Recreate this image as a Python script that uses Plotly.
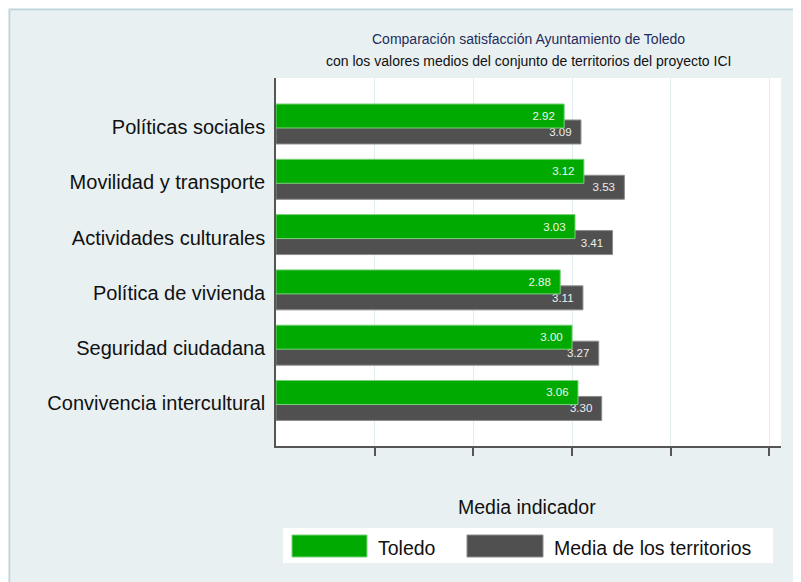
import plotly.graph_objects as go

# ---------------- data ----------------
categories = [
    "Políticas sociales",
    "Movilidad y transporte",
    "Actividades culturales",
    "Política de vivienda",
    "Seguridad ciudadana",
    "Convivencia intercultural",
]
toledo = [2.92, 3.12, 3.03, 2.88, 3.00, 3.06]
media_territorios = [3.09, 3.53, 3.41, 3.11, 3.27, 3.30]
series_names = ["Toledo", "Media de los territorios"]
title_lines = [
    "Comparación satisfacción Ayuntamiento de Toledo",
    "con los valores medios del conjunto de territorios del proyecto ICI",
]
axis_title = "Media indicador"
x_ticks = [1, 2, 3, 4, 5]

# ---------------- style ----------------
GREEN = "#00aa00"
GRAY = "#505050"
BG = "#e8f0f2"
FONT = "Arial, Liberation Sans, sans-serif"
OFF = 8  # page body margin
W, H = 801, 582
L, R, T, B = 268, 28, 70, 144
pw = W - L - R
ph = H - T - B


def px(x):  # screen pixel -> paper
    return (x - OFF - L) / pw


def py(y):
    return (H - B - (y - OFF)) / ph


fig = go.Figure()

# gray drawn first so green overlaps it
fig.add_trace(go.Bar(
    y=categories, x=media_territorios, orientation="h", name=series_names[1],
    marker=dict(color=GRAY, line=dict(color="#8c8c8c", width=1)),
    width=0.434, offset=-0.127,
    texttemplate="%{x:.2f}\u00a0\u00a0", textposition="inside", insidetextanchor="end",
    textfont=dict(color="#eeeeee", size=11.5, family=FONT),
    showlegend=False, hoverinfo="skip",
))
fig.add_trace(go.Bar(
    y=categories, x=toledo, orientation="h", name=series_names[0],
    marker=dict(color=GREEN, line=dict(color="#7ad27a", width=1)),
    width=0.434, offset=-0.416,
    texttemplate="%{x:.2f}\u00a0\u00a0", textposition="inside", insidetextanchor="end",
    textfont=dict(color="#eef8ee", size=11.5, family=FONT),
    showlegend=False, hoverinfo="skip",
))

shapes = [
    # thin light border along top and left of the figure
    dict(type="line", xref="paper", yref="paper", x0=px(9.5), x1=px(820),
         y0=py(9.5), y1=py(9.5), line=dict(color="#bcd3db", width=1.5)),
    dict(type="line", xref="paper", yref="paper", x0=px(9.5), x1=px(9.5),
         y0=py(9.5), y1=py(600), line=dict(color="#bcd3db", width=1.5)),
    # legend box
    dict(type="rect", xref="paper", yref="paper", x0=px(283), x1=px(773),
         y0=py(563), y1=py(528), fillcolor="white", line=dict(width=0)),
    dict(type="rect", xref="paper", yref="paper", x0=px(292), x1=px(367),
         y0=py(557), y1=py(535), fillcolor=GREEN, line=dict(color="#7ad27a", width=1)),
    dict(type="rect", xref="paper", yref="paper", x0=px(467), x1=px(543),
         y0=py(557), y1=py(535), fillcolor=GRAY, line=dict(color="#8c8c8c", width=1)),
]

annotations = [
    dict(text=title_lines[0], xref="paper", yref="paper", x=0.5, y=py(39),
         xanchor="center", yanchor="middle", showarrow=False,
         font=dict(family=FONT, size=14, color="#1f2d5c")),
    dict(text=title_lines[1], xref="paper", yref="paper", x=0.5, y=py(61),
         xanchor="center", yanchor="middle", showarrow=False,
         font=dict(family=FONT, size=14, color="#111111")),
    dict(text=axis_title, xref="paper", yref="paper", x=px(527), y=py(507),
         xanchor="center", yanchor="middle", showarrow=False,
         font=dict(family=FONT, size=19.5, color="#111111")),
    dict(text=series_names[0], xref="paper", yref="paper", x=px(376), y=py(548),
         xanchor="left", yanchor="middle", showarrow=False,
         font=dict(family=FONT, size=19.5, color="#111111")),
    dict(text=series_names[1], xref="paper", yref="paper", x=px(552), y=py(548),
         xanchor="left", yanchor="middle", showarrow=False,
         font=dict(family=FONT, size=19.5, color="#111111")),
]

fig.update_layout(
    width=W, height=H,
    margin=dict(l=L, r=R, t=T, b=B, pad=0),
    paper_bgcolor=BG, plot_bgcolor="white",
    barmode="overlay",
    font=dict(family=FONT, color="#111111"),
    shapes=shapes, annotations=annotations,
    showlegend=False,
    xaxis=dict(
        range=[0, 5.117], tickvals=x_ticks, showticklabels=False,
        ticks="outside", ticklen=8, tickwidth=1.5, tickcolor="#555555",
        showgrid=True, gridcolor="#e2ebee", gridwidth=1,
        showline=True, linecolor="#555555", linewidth=1.5, zeroline=False,
        fixedrange=True,
    ),
    yaxis=dict(
        type="category", categoryorder="array", categoryarray=categories,
        range=[5.769, -0.886], ticks="", showgrid=False,
        showline=True, linecolor="#555555", linewidth=1.5,
        tickfont=dict(family=FONT, size=20, color="#111111"),
        ticklabelstandoff=5, fixedrange=True,
    ),
)

fig.write_html("out.html")
